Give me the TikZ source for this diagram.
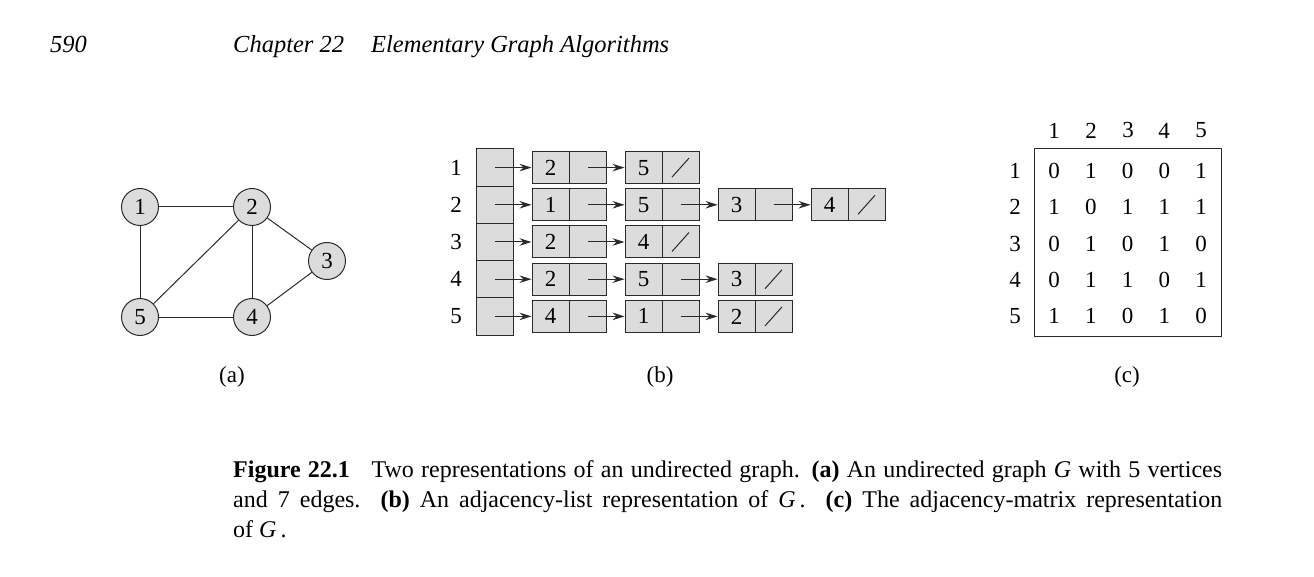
\documentclass[tikz,border=0pt]{standalone}
\usepackage{fontspec}
\setmainfont{Liberation Serif}
\usetikzlibrary{arrows.meta}
\definecolor{cellgray}{HTML}{DCDCDC}
\definecolor{linegray}{HTML}{2A2A2A}
\begin{document}
\begin{tikzpicture}[x=1pt,y=-1pt,
  font=\fontsize{23}{26}\selectfont,
  vtx/.style={circle, draw=linegray, fill=cellgray, minimum size=37pt, inner sep=0pt, line width=1pt},
  gedge/.style={draw=linegray, line width=1pt},
  headcell/.style={rectangle, draw=linegray, fill=cellgray, minimum width=37pt, minimum height=37.2pt, inner sep=0pt, line width=1pt},
  lcell/.style={rectangle, draw=linegray, fill=cellgray, minimum width=37pt, minimum height=32pt, inner sep=0pt, line width=1pt},
  ptr/.style={-{Stealth[length=12pt,width=7.5pt,inset=4pt]}, line width=1pt, draw=linegray},
  nilslash/.style={line width=1pt, draw=linegray},
  lbl/.style={inner sep=0pt},
  hdr/.style={inner sep=0pt, anchor=base west, font=\fontsize{24.5}{28}\selectfont\itshape},
  capline/.style={inner sep=0pt, anchor=base west, font=\fontsize{24}{30}\selectfont}
]
\useasboundingbox (0,0) rectangle (1314,577);

% header
\node[hdr] (pg) at (50,53) {590};
\node[hdr] (ch) at (233,53) {Chapter 22};
\node[hdr] (ct) at (371,53) {Elementary Graph Algorithms};

% (a) graph
\node[vtx] (v1) at (140,207) {1};
\node[vtx] (v2) at (252,207) {2};
\node[vtx] (v3) at (327,261) {3};
\node[vtx] (v4) at (252,317) {4};
\node[vtx] (v5) at (140,317) {5};
\draw[gedge] (v1) -- (v2);
\draw[gedge] (v1) -- (v5);
\draw[gedge] (v2) -- (v5);
\draw[gedge] (v2) -- (v4);
\draw[gedge] (v2) -- (v3);
\draw[gedge] (v3) -- (v4);
\draw[gedge] (v5) -- (v4);
\node[lbl, anchor=base] (la) at (232,382) {(a)};

% (b) adjacency lists
\foreach \i in {1,...,5}{
  \pgfmathsetmacro{\ry}{167.6+37.2*(\i-1)}
  \node[lbl] (r\i) at (456,\ry) {\i};
  \node[headcell] (h\i) at (494.5,\ry) {};
}
\foreach \r/\list in {1/{2,5}, 2/{1,5,3,4}, 3/{2,4}, 4/{2,5,3}, 5/{4,1,2}}{
  \pgfmathsetmacro{\ry}{167.6+37.2*(\r-1)}
  \foreach \k [count=\c] in \list {
    \pgfmathsetmacro{\kx}{550.5+93*(\c-1)}
    \pgfmathsetmacro{\px}{\kx+37}
    \node[lcell] (k\r-\c) at (\kx,\ry) {\k};
    \node[lcell] (p\r-\c) at (\px,\ry) {};
  }
}
\foreach \r in {1,...,5}{ \draw[ptr] (h\r.center) -- (k\r-1.west); }
\draw[ptr] (p1-1.center) -- (k1-2.west);
\draw[ptr] (p2-1.center) -- (k2-2.west);
\draw[ptr] (p2-2.center) -- (k2-3.west);
\draw[ptr] (p2-3.center) -- (k2-4.west);
\draw[ptr] (p3-1.center) -- (k3-2.west);
\draw[ptr] (p4-1.center) -- (k4-2.west);
\draw[ptr] (p4-2.center) -- (k4-3.west);
\draw[ptr] (p5-1.center) -- (k5-2.west);
\draw[ptr] (p5-2.center) -- (k5-3.west);
\foreach \n in {p1-2, p2-4, p3-2, p4-3, p5-3}{
  \draw[nilslash] ([shift={(-8.5,9.5)}]\n.center) -- ([shift={(8.5,-9.5)}]\n.center);
}
\node[lbl, anchor=base] (lb) at (660,382) {(b)};

% (c) adjacency matrix
\node[rectangle, draw=linegray, line width=1pt, minimum width=187pt, minimum height=187pt, inner sep=0pt] (mbox) at (1127.5,242.5) {};
\foreach \j/\cx in {1/1054,2/1091,3/1128,4/1164,5/1201}{
  \node[lbl] (c\j) at (\cx,130.5) {\j};
}
\foreach \i/\row in {1/{0,1,0,0,1}, 2/{1,0,1,1,1}, 3/{0,1,0,1,0}, 4/{0,1,1,0,1}, 5/{1,1,0,1,0}}{
  \pgfmathsetmacro{\ry}{171+36.25*(\i-1)}
  \node[lbl] (m\i) at (1015,\ry) {\i};
  \foreach \v [count=\j] in \row {
    \pgfmathsetmacro{\cx}{1054+36.75*(\j-1)}
    \node[lbl] (e\i-\j) at (\cx,\ry) {\v};
  }
}
\node[lbl, anchor=base] (lc) at (1127,382) {(c)};

% caption
\node[capline] (cap1) at (233,477) {\makebox[989pt][s]{\textbf{Figure 22.1}\hspace{0.9em}Two representations of an undirected graph. \textbf{(a)} An undirected graph \textit{G} with 5 vertices}};
\node[capline] (cap2) at (233,507) {\makebox[989pt][s]{and 7 edges.\ \ \textbf{(b)} An adjacency-list representation of \textit{G}\,.\ \ \textbf{(c)} The adjacency-matrix representation}};
\node[capline] (cap3) at (233,537) {of \textit{G}\,.};
\end{tikzpicture}
\end{document}
